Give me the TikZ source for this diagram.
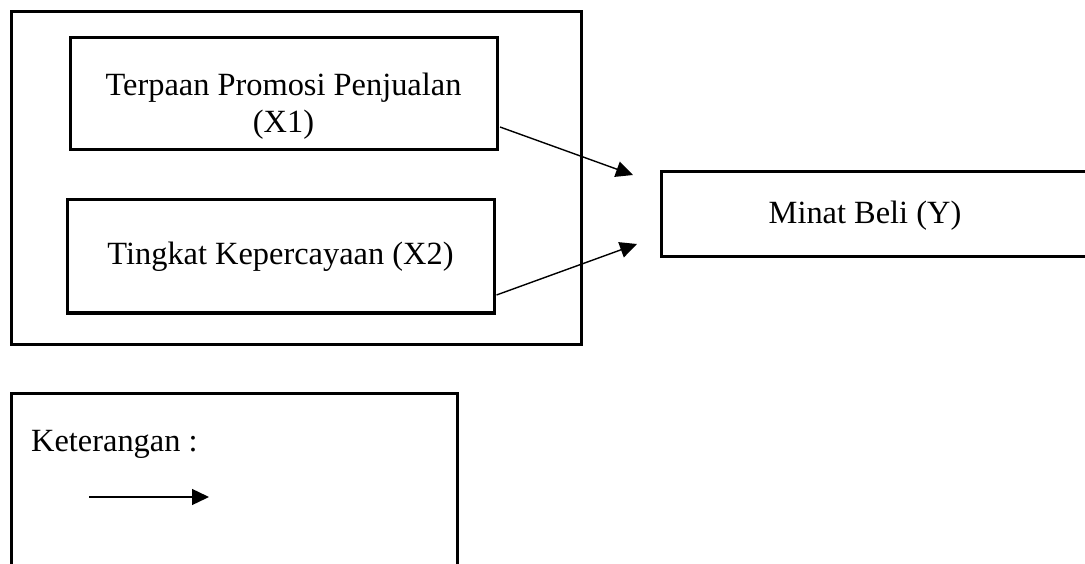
\documentclass[tikz,border=0pt]{standalone}
\usepackage{fontspec}
\setmainfont{Liberation Serif}
\usepackage{tikz}
\usetikzlibrary{arrows.meta, calc}

\begin{document}
\begin{tikzpicture}[
  x=1pt, y=-1pt,
  >={Triangle[length=17pt, width=16pt]},
  font=\fontsize{32.4}{37}\selectfont,
  frame/.style={draw, line width=3pt, inner sep=0pt},
  link/.style={->, line width=1.4pt},
  ]

  % Page
  \useasboundingbox (0, 0) rectangle (1085, 564);

  % Group frame round both variables
  \node[frame, minimum width=570, minimum height=332] (grp) at (296, 178) {};

  % Variable X1
  \node[frame, minimum width=427, minimum height=112,
    label={[align=center, yshift=-12pt]center:Terpaan Promosi Penjualan\\(X1)}]
    (x1) at (283.5, 94) {};

  % Variable X2
  \node[frame, minimum width=427, minimum height=113] (x2) at (280.5, 256.5)
    {Tingkat Kepercayaan (X2)};

  % Variable Y (box runs past the right edge)
  \draw[line width=3pt] (1090, 172) -- (661, 172) -- (661, 257) -- (1090, 257);
  \node (y) at (865, 216) {Minat Beli (Y)};

  % Arrows
  \coordinate (in1) at (633, 175);
  \coordinate (in2) at (637, 244);
  \draw[link] ($(x1.east) + (1.5, 33)$) -- (in1);
  \draw[link] ($(x2.east) + (1, 38.5)$) -- (in2);

  % Legend
  \draw[line width=3pt] (11, 600) -- (11, 393) -- (457, 393) -- (457, 600);
  \node[anchor=base west, inner sep=0pt] (ket) at (31, 451) {Keterangan :};
  \coordinate (lg1) at (89, 497);
  \coordinate (lg2) at (209, 497);
  \draw[link] (lg1) -- (lg2);

\end{tikzpicture}
\end{document}
